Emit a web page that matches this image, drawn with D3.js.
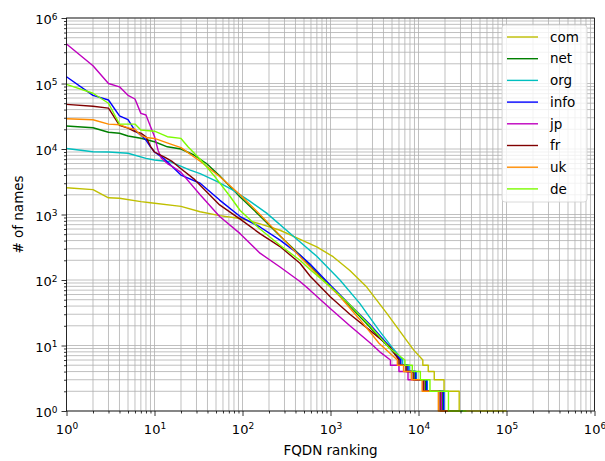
<!DOCTYPE html>
<html>
<head>
<meta charset="utf-8">
<script src="https://cdn.jsdelivr.net/npm/d3@7"></script>
<style>
  body { margin: 0; background: #fff; }
  text { font-family: "DejaVu Sans", sans-serif; }
</style>
</head>
<body>
<div id="chart-area"></div>
<script>
// series names and colours (legend order)
const tlds = ["com", "net", "org", "info", "jp", "fr", "uk", "de"]
const colors = ["#bfbf00", "#008000", "#00bfbf", "#0000ff", "#bf00bf", "#800000", "#ff8c00", "#7cfc00"]

// [rank, count], down to the point where count reaches 6
const com = [[1,2560],[2,2400],[3,1800],[4,1770],[7,1570],[9,1510],[20,1330],[33,1100],[55,960],[94,870],[158,720],[267,575],[415,440],[698,320],[1070,227],[1660,140],[2580,78],[4370,31],[7320,12],[8830,8.5],[11200,6]]
const net = [[1,22500],[2,21100],[3,18000],[4,17400],[5,15800],[7,14600],[10,12900],[14,10800],[20,10000],[28,8100],[39,6000],[55,3900],[94,1850],[158,950],[267,470],[450,240],[585,165],[986,82],[1660,40],[2810,19],[4740,9],[6200,6]]
const org = [[1,10200],[2,9100],[3,9000],[5,8600],[8,7200],[10,6800],[15,6400],[25,4800],[33,4200],[51,3200],[78,2350],[121,1600],[188,1050],[376,470],[698,230],[1280,100],[2150,44],[3560,17],[4940,9.6],[6600,6]]
const info = [[1,127000],[2,66000],[3,56000],[4,32000],[5,28000],[6,19000],[7,16300],[8,13700],[9,10800],[10,9000],[13,7000],[20,4000],[33,3000],[55,1660],[94,930],[158,645],[267,407],[450,240],[585,175],[986,85],[1660,42],[2810,21],[4740,9.5],[6300,6]]
const jp = [[1,400000],[2,187000],[3,100000],[4,89000],[5,66000],[6,58000],[7,35000],[8,33000],[9,22000],[10,15500],[11,9500],[12,7200],[14,6000],[16,5400],[20,4400],[33,2000],[55,930],[94,510],[158,257],[267,158],[450,95],[585,70],[986,37],[1660,20],[2810,11],[3630,8],[4800,6]]
const fr = [[1,48000],[2,45000],[3,42000],[4,23000],[5,20800],[6,18400],[7,17500],[8,15400],[9,11000],[10,9000],[13,7500],[16,6400],[20,5000],[28,3500],[33,2800],[55,1400],[94,850],[158,510],[267,324],[450,180],[585,115],[986,56],[1660,30],[2810,17],[4740,9.5],[6000,6]]
const uk = [[1,29000],[2,28000],[3,24000],[4,23500],[5,21000],[6,20000],[7,16000],[8,15000],[10,14500],[15,12000],[20,10500],[33,6500],[55,3800],[94,2000],[158,1000],[267,480],[450,227],[752,112],[1280,56],[2150,25],[3560,10.8],[5750,6]]
const de = [[1,97000],[2,71000],[3,50000],[4,24000],[6,24000],[7,19500],[10,18700],[14,15400],[20,14500],[24,10800],[33,7000],[50,3600],[72,1900],[94,1150],[158,600],[267,340],[450,200],[585,145],[986,80],[1660,42],[2810,20],[4740,9],[7000,6]]

// last rank holding a count of 5, 4, 3, 2, 1
const stepCounts = [5, 4, 3, 2, 1]
const comSteps = [12900, 15100, 19500, 29000, 100000]
const netSteps = [7400, 9100, 12000, 18600, 30000]
const orgSteps = [7900, 9500, 12600, 19500, 32000]
const infoSteps = [7600, 9300, 12400, 19300, 32000]
const jpSteps = [6000, 7600, 11200, 18200, 30000]
const frSteps = [7200, 8700, 11500, 17600, 30000]
const ukSteps = [6760, 8300, 11000, 16800, 30000]
const deSteps = [8500, 10500, 13500, 21900, 35000]

const heads = [com, net, org, info, jp, fr, uk, de]
const steps = [comSteps, netSteps, orgSteps, infoSteps, jpSteps, frSteps, ukSteps, deSteps]

const exponents = [0, 1, 2, 3, 4, 5, 6]

const margin = { left: 66.5, top: 18, right: 10.5, bottom: 50 }
const W = 605, H = 461
const width = W - margin.left - margin.right
const height = H - margin.top - margin.bottom

const svg = d3.select("#chart-area").append("svg")
	.attr("width", W)
	.attr("height", H)

const g = svg.append("g")
	.attr("transform", `translate(${margin.left},${margin.top})`)

const x = d3.scaleLog().domain([1, 1e6]).range([0, width])
const y = d3.scaleLog().domain([1, 1e6]).range([height, 0])

const major = exponents.map(e => Math.pow(10, e))
const minor = []
exponents.slice(0, -1).forEach(e => {
	for (let m = 2; m <= 9; m++) minor.push(m * Math.pow(10, e))
})
const allTicks = major.concat(minor)

// grid (major + minor)
const grid = g.append("g").attr("stroke", "#b0b0b0").attr("stroke-width", 0.8)
grid.selectAll(".vg").data(allTicks).enter().append("line")
	.attr("x1", d => x(d)).attr("x2", d => x(d))
	.attr("y1", 0).attr("y2", height)
grid.selectAll(".hg").data(allTicks).enter().append("line")
	.attr("y1", d => y(d)).attr("y2", d => y(d))
	.attr("x1", 0).attr("x2", width)

// build full point lists: head then stairs
const series = heads.map((h, i) => {
	const pts = h.slice()
	let r = pts[pts.length - 1][0]
	stepCounts.forEach((c, j) => {
		pts.push([r, c])
		r = steps[i][j]
		pts.push([r, c])
	})
	return pts
})

const line = d3.line()
	.x(d => x(d[0]))
	.y(d => y(d[1]))

g.append("g").selectAll("path").data(series).enter().append("path")
	.attr("fill", "none")
	.attr("stroke", (d, i) => colors[i])
	.attr("stroke-width", 1.4)
	.attr("stroke-linejoin", "round")
	.attr("d", line)

// axes
const supLabel = (sel) => {
	sel.selectAll(".tick text").each(function(d) {
		const t = d3.select(this)
		t.text(null)
		t.append("tspan").text("10")
		t.append("tspan").attr("dy", "-0.5em").attr("font-size", "9px").text(Math.round(Math.log10(d)))
	})
}

const xAxis = g.append("g").attr("transform", `translate(0,${height})`)
xAxis.call(d3.axisBottom(x).tickValues(minor).tickSize(2.5).tickFormat(""))
const xMajor = g.append("g").attr("transform", `translate(0,${height})`)
	.call(d3.axisBottom(x).tickValues(major).tickSize(5).tickPadding(4).tickFormat(d => d))
xMajor.call(supLabel)
xMajor.selectAll(".tick text").attr("font-size", "13px").attr("font-family", "DejaVu Sans").attr("fill", "#000").attr("dy", "1.05em")

const yAxis = g.append("g")
yAxis.call(d3.axisLeft(y).tickValues(minor).tickSize(2.5).tickFormat(""))
const yMajor = g.append("g")
	.call(d3.axisLeft(y).tickValues(major).tickSize(5).tickPadding(4).tickFormat(d => d))
yMajor.call(supLabel)
yMajor.selectAll(".tick text").attr("font-size", "13px").attr("font-family", "DejaVu Sans").attr("fill", "#000").attr("dy", "0.45em")

g.selectAll(".domain").remove()
g.selectAll(".tick line").attr("stroke", "#000").attr("stroke-width", 0.8)

// frame
g.append("rect")
	.attr("width", width).attr("height", height)
	.attr("fill", "none").attr("stroke", "#000").attr("stroke-width", 0.8)

g.append("text")
	.attr("x", width / 2)
	.attr("y", height + 44)
	.attr("text-anchor", "middle")
	.attr("font-size", "13.5px")
	.text("FQDN ranking")

g.append("text")
	.attr("transform", "rotate(-90)")
	.attr("x", -height / 2)
	.attr("y", -44)
	.attr("text-anchor", "middle")
	.attr("font-size", "13.5px")
	.text("# of names")

// legend
const legend = g.append("g").attr("transform", `translate(${width - 92.5},7)`)
legend.append("rect")
	.attr("width", 85).attr("height", 177).attr("rx", 3)
	.attr("fill", "#fff").attr("fill-opacity", 0.8)
	.attr("stroke", "#d0d0d0").attr("stroke-width", 0.8)
const items = legend.selectAll(".item").data(tlds).enter().append("g")
	.attr("transform", (d, i) => `translate(0,${12 + i * 21.7})`)
items.append("line")
	.attr("x1", 5).attr("x2", 36)
	.attr("stroke", (d, i) => colors[i]).attr("stroke-width", 1.4)
items.append("text")
	.attr("x", 48).attr("dy", "0.35em")
	.attr("font-size", "13.5px")
	.text(d => d)
</script>
</body>
</html>
